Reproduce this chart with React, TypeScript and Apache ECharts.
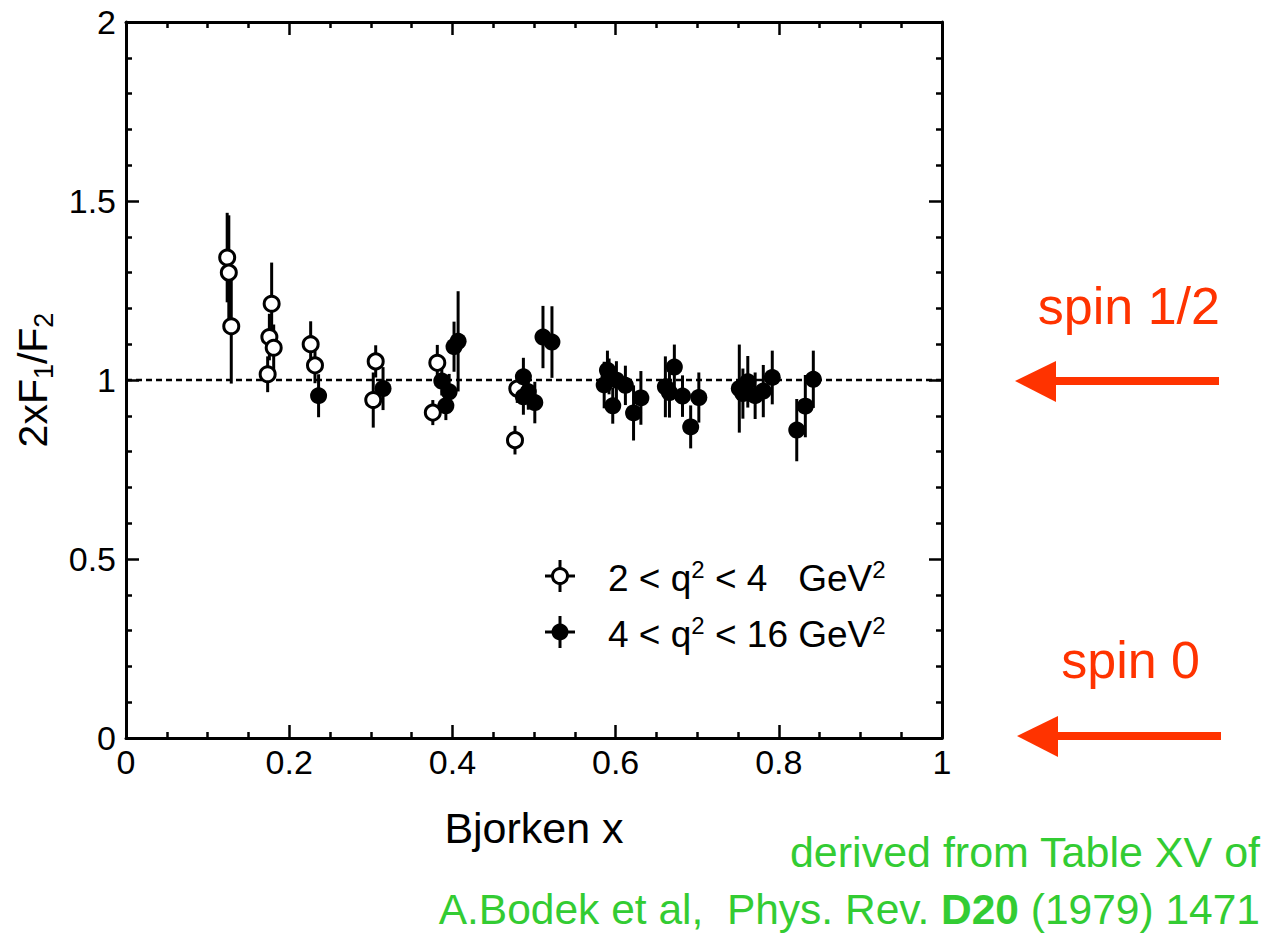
import React, { useEffect, useRef } from "react";
import * as echarts from "echarts";

// Open circles: 2 < q^2 < 4 GeV^2
const lowQX = [0.124, 0.126, 0.129, 0.1785, 0.1757, 0.181, 0.1736, 0.2263, 0.2316, 0.306, 0.303, 0.3815, 0.376, 0.4767, 0.4795];
const lowQY = [1.342, 1.30, 1.15, 1.213, 1.12, 1.09, 1.016, 1.10, 1.041, 1.052, 0.944, 1.048, 0.909, 0.832, 0.976];
const lowQErr = [0.125, 0.16, 0.16, 0.115, 0.065, 0.065, 0.05, 0.064, 0.05, 0.045, 0.077, 0.05, 0.035, 0.04, 0.04];

// Filled circles: 4 < q^2 < 16 GeV^2
const highQX = [0.236, 0.315, 0.387, 0.396, 0.392, 0.402, 0.407, 0.487, 0.493, 0.487, 0.501, 0.511, 0.522, 0.590, 0.592, 0.586, 0.5965, 0.601, 0.612, 0.622, 0.631, 0.661, 0.666, 0.672, 0.682, 0.692, 0.702, 0.7516, 0.756, 0.762, 0.771, 0.781, 0.792, 0.822, 0.8325, 0.8423];
const highQY = [0.956, 0.976, 0.997, 0.967, 0.928, 1.093, 1.108, 1.009, 0.967, 0.953, 0.937, 1.12, 1.106, 1.027, 1.01, 0.986, 0.928, 0.9995, 0.985, 0.908, 0.950, 0.981, 0.965, 1.036, 0.955, 0.869, 0.951, 0.976, 0.962, 0.995, 0.956, 0.969, 1.007, 0.86, 0.927, 1.002];
const highQErr = [0.06, 0.06, 0.04, 0.05, 0.04, 0.07, 0.14, 0.053, 0.05, 0.05, 0.058, 0.087, 0.1, 0.055, 0.05, 0.065, 0.05, 0.053, 0.055, 0.077, 0.075, 0.085, 0.07, 0.063, 0.058, 0.06, 0.07, 0.123, 0.07, 0.072, 0.065, 0.073, 0.075, 0.087, 0.087, 0.08];

const xTicks = [0, 0.2, 0.4, 0.6, 0.8, 1];
const yTicks = [0, 0.5, 1, 1.5, 2];
const referenceY = 1;

const FONT = "'Liberation Sans', Arial, Helvetica, sans-serif";
const RED = "#ff3300";
const GREEN = "#33cc33";

export default function App() {
  const ref = useRef<HTMLDivElement>(null);

  useEffect(() => {
    if (!ref.current) return;
    const chart = echarts.init(ref.current, null, { renderer: "svg" });

    const lowData = lowQX.map((x, i) => [x, lowQY[i], lowQErr[i]]);
    const highData = highQX.map((x, i) => [x, highQY[i], highQErr[i]]);
    const allData = [...lowData, ...highData];

    const errRender = (params: any, api: any) => {
      const x = api.value(0);
      const y = api.value(1);
      const e = api.value(2);
      const p1 = api.coord([x, y - e]);
      const p2 = api.coord([x, y + e]);
      return {
        type: "line",
        shape: { x1: p1[0], y1: p1[1], x2: p2[0], y2: p2[1] },
        style: { stroke: "#000", lineWidth: 3 },
      };
    };

    const axisCommonX = {
      type: "value",
      min: xTicks[0],
      max: xTicks[xTicks.length - 1],
      interval: xTicks[1] - xTicks[0],
      splitLine: { show: false },
      axisLine: { show: true, onZero: false, lineStyle: { color: "#000", width: 3 } },
      axisTick: { show: true, inside: true, length: 13, lineStyle: { color: "#000", width: 2.5 } },
      minorTick: { show: true, splitNumber: 4, length: 6, lineStyle: { color: "#000", width: 2.5 } },
    };
    const axisCommonY = {
      type: "value",
      min: yTicks[0],
      max: yTicks[yTicks.length - 1],
      interval: yTicks[1] - yTicks[0],
      splitLine: { show: false },
      axisLine: { show: true, onZero: false, lineStyle: { color: "#000", width: 3 } },
      axisTick: { show: true, inside: true, length: 13, lineStyle: { color: "#000", width: 2.5 } },
      minorTick: { show: true, splitNumber: 5, length: 6, lineStyle: { color: "#000", width: 2.5 } },
    };

    const supRich = { sup: { fontSize: 24, fontFamily: FONT, fill: "#000", verticalAlign: "top", lineHeight: 22 } };

    const option: any = {
      animation: false,
      backgroundColor: "#fff",
      textStyle: { fontFamily: FONT },
      grid: { left: 126, top: 22, width: 816, height: 716, containLabel: false, outerBoundsMode: "none" },
      xAxis: [
        {
          ...axisCommonX,
          position: "bottom",
          axisLabel: { show: true, color: "#000", fontSize: 34, fontFamily: FONT, margin: 7 },
          name: "Bjorken x",
          nameLocation: "middle",
          nameGap: 68,
          nameTextStyle: { color: "#000", fontSize: 43, fontFamily: FONT },
        },
        {
          ...axisCommonX,
          position: "top",
          axisLabel: { show: false },
        },
      ],
      yAxis: [
        {
          ...axisCommonY,
          position: "left",
          axisLabel: { show: true, color: "#000", fontSize: 34, fontFamily: FONT, margin: 10 },
          name: "2xF{sub|1}/F{sub|2}",
          nameLocation: "middle",
          nameRotate: 90,
          nameGap: 66,
          nameTextStyle: {
            color: "#000",
            fontSize: 41,
            fontFamily: FONT,
            lineHeight: 50,
            rich: {
              sub: { fontSize: 27, fontFamily: FONT, color: "#000", verticalAlign: "bottom", lineHeight: 22 },
            },
          },
        },
        {
          ...axisCommonY,
          position: "right",
          axisLabel: { show: false },
        },
      ],
      series: [
        {
          type: "line",
          data: [[xTicks[0], referenceY], [xTicks[xTicks.length - 1], referenceY]],
          symbol: "none",
          lineStyle: { color: "#000", width: 2.5, type: [6, 4] },
          silent: true,
          z: 1,
        },
        {
          type: "custom",
          renderItem: errRender,
          data: allData,
          z: 2,
        },
        {
          type: "scatter",
          data: lowData,
          symbol: "circle",
          symbolSize: 15,
          itemStyle: { color: "#fff", borderColor: "#000", borderWidth: 3, opacity: 1 },
          z: 3,
        },
        {
          type: "scatter",
          data: highData,
          symbol: "circle",
          symbolSize: 17,
          itemStyle: { color: "#000", opacity: 1 },
          z: 4,
        },
      ],
      graphic: [
        // legend
        { type: "line", shape: { x1: 545, y1: 576, x2: 575, y2: 576 }, style: { stroke: "#000", lineWidth: 3 } },
        { type: "line", shape: { x1: 560, y1: 560, x2: 560, y2: 592 }, style: { stroke: "#000", lineWidth: 3 } },
        { type: "circle", shape: { cx: 560, cy: 576, r: 7.5 }, style: { fill: "#fff", stroke: "#000", lineWidth: 3 } },
        {
          type: "text",
          x: 608,
          y: 578,
          style: {
            text: "2 < q{sup|2} < 4   GeV{sup|2}",
            fontSize: 37,
            fontFamily: FONT,
            fill: "#000",
            verticalAlign: "middle",
            lineHeight: 42,
            rich: supRich,
          },
        },
        { type: "line", shape: { x1: 545, y1: 632, x2: 575, y2: 632 }, style: { stroke: "#000", lineWidth: 3 } },
        { type: "line", shape: { x1: 560, y1: 616, x2: 560, y2: 648 }, style: { stroke: "#000", lineWidth: 3 } },
        { type: "circle", shape: { cx: 560, cy: 632, r: 8.5 }, style: { fill: "#000" } },
        {
          type: "text",
          x: 608,
          y: 634,
          style: {
            text: "4 < q{sup|2} < 16 GeV{sup|2}",
            fontSize: 37,
            fontFamily: FONT,
            fill: "#000",
            verticalAlign: "middle",
            lineHeight: 42,
            rich: supRich,
          },
        },
        // spin annotations
        {
          type: "text",
          x: 1220,
          y: 332,
          style: { text: "spin 1/2", fontSize: 52, fontFamily: FONT, fill: RED, align: "right", verticalAlign: "bottom" },
        },
        { type: "line", shape: { x1: 1050, y1: 381, x2: 1219, y2: 381 }, style: { stroke: RED, lineWidth: 8 } },
        { type: "polygon", shape: { points: [[1015, 381], [1056, 361], [1056, 402]] }, style: { fill: RED } },
        {
          type: "text",
          x: 1200,
          y: 686,
          style: { text: "spin 0", fontSize: 52, fontFamily: FONT, fill: RED, align: "right", verticalAlign: "bottom" },
        },
        { type: "line", shape: { x1: 1052, y1: 736, x2: 1221, y2: 736 }, style: { stroke: RED, lineWidth: 8 } },
        { type: "polygon", shape: { points: [[1017, 736], [1058, 716], [1058, 757]] }, style: { fill: RED } },
        // citation
        {
          type: "text",
          x: 1260,
          y: 852,
          style: { text: "derived from Table XV of", fontSize: 43, fontFamily: FONT, fill: GREEN, align: "right", verticalAlign: "middle", lineHeight: 44 },
        },
        {
          type: "text",
          x: 1260,
          y: 909,
          style: {
            text: "A.Bodek et al,  Phys. Rev. {b|D20} (1979) 1471",
            fontSize: 42.5,
            fontFamily: FONT,
            fill: GREEN,
            align: "right",
            verticalAlign: "middle",
            lineHeight: 44,
            rich: { b: { fontSize: 42.5, fontFamily: FONT, fontWeight: "bold", fill: GREEN, lineHeight: 44 } },
          },
        },
      ],
    };

    chart.setOption(option);
    return () => chart.dispose();
  }, []);

  return (
    <div
      ref={ref}
      style={{ position: "fixed", left: 0, top: 0, width: 1279, height: 934, background: "#fff" }}
    />
  );
}
